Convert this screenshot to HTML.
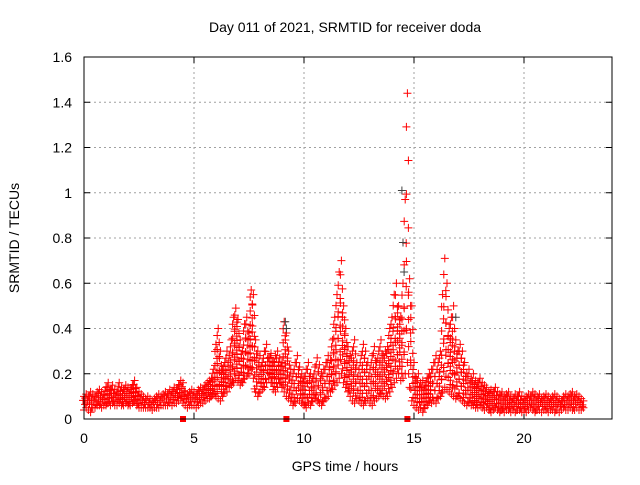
<!DOCTYPE html>
<html><head><meta charset="utf-8"><style>
body{margin:0;background:#fff}
svg text{font-family:"Liberation Sans",sans-serif;font-size:14px;fill:#000}
</style></head><body>
<svg id="c" width="640" height="480"></svg>
<script>
const yTicks=[0,0.2,0.4,0.6,0.8,1,1.2,1.4,1.6];
const yTickLabels=["0","0.2","0.4","0.6","0.8","1","1.2","1.4","1.6"];
const xTicks=[0,5,10,15,20];
const xTickLabels=["0","5","10","15","20"];
const hiVals=[0.10,0.11,0.10,0.12,0.11,0.10,0.12,0.13,0.12,0.11,
0.14,0.16,0.13,0.15,0.13,0.12,0.16,0.14,0.13,0.15,
0.14,0.13,0.15,0.17,0.14,0.12,0.11,0.10,0.09,0.10,
0.09,0.08,0.09,0.10,0.11,0.10,0.11,0.12,0.11,0.13,
0.12,0.14,0.13,0.15,0.17,0.16,0.12,0.11,0.12,0.13,
0.12,0.11,0.13,0.14,0.13,0.15,0.16,0.17,0.18,0.22,
0.33,0.40,0.30,0.22,0.25,0.30,0.28,0.35,0.45,0.49,
0.44,0.35,0.30,0.42,0.45,0.38,0.57,0.55,0.35,0.30,
0.28,0.25,0.30,0.33,0.27,0.29,0.25,0.28,0.30,0.27,
0.25,0.43,0.38,0.30,0.22,0.20,0.25,0.28,0.23,0.20,
0.18,0.22,0.25,0.20,0.18,0.23,0.27,0.24,0.20,0.22,
0.25,0.28,0.26,0.35,0.45,0.55,0.65,0.70,0.50,0.40,
0.32,0.28,0.30,0.35,0.25,0.22,0.28,0.33,0.30,0.25,
0.22,0.28,0.32,0.25,0.30,0.35,0.28,0.30,0.32,0.40,
0.45,0.55,0.60,0.50,0.45,0.60,0.97,1.44,0.62,0.50,
0.25,0.18,0.20,0.16,0.17,0.15,0.18,0.20,0.22,0.25,
0.28,0.25,0.30,0.55,0.71,0.60,0.40,0.45,0.50,0.35,
0.30,0.33,0.30,0.25,0.20,0.22,0.18,0.20,0.17,0.16,
0.18,0.16,0.15,0.14,0.12,0.13,0.12,0.14,0.12,0.11,
0.12,0.10,0.11,0.12,0.10,0.09,0.11,0.10,0.12,0.10,
0.09,0.10,0.11,0.10,0.12,0.11,0.10,0.11,0.09,0.10,
0.11,0.10,0.09,0.10,0.11,0.10,0.09,0.08,0.10,0.11,
0.10,0.11,0.12,0.10,0.11,0.10,0.09,0.08];
const loVals=[0.04,0.05,0.04,0.03,0.05,0.05,0.06,0.06,0.05,0.06,
0.06,0.07,0.06,0.07,0.06,0.06,0.07,0.06,0.06,0.07,
0.06,0.06,0.07,0.08,0.06,0.05,0.05,0.05,0.05,0.05,
0.05,0.04,0.05,0.05,0.05,0.06,0.06,0.06,0.06,0.07,
0.06,0.07,0.07,0.08,0.09,0.07,0.06,0.05,0.06,0.06,
0.06,0.05,0.06,0.07,0.07,0.08,0.09,0.09,0.10,0.11,
0.10,0.09,0.08,0.10,0.12,0.12,0.14,0.15,0.16,0.18,
0.17,0.15,0.16,0.18,0.19,0.20,0.22,0.18,0.12,0.10,
0.12,0.13,0.14,0.16,0.18,0.16,0.13,0.12,0.14,0.16,
0.14,0.12,0.10,0.09,0.08,0.06,0.07,0.09,0.08,0.07,
0.06,0.05,0.07,0.06,0.08,0.09,0.08,0.07,0.06,0.08,
0.09,0.10,0.12,0.13,0.15,0.16,0.18,0.20,0.16,0.14,
0.12,0.10,0.08,0.07,0.09,0.08,0.07,0.06,0.08,0.09,
0.07,0.06,0.08,0.09,0.10,0.11,0.10,0.09,0.10,0.12,
0.14,0.16,0.18,0.20,0.17,0.18,0.20,0.25,0.14,0.08,
0.06,0.05,0.04,0.05,0.03,0.05,0.06,0.08,0.07,0.08,
0.07,0.09,0.10,0.12,0.14,0.13,0.12,0.11,0.10,0.09,
0.10,0.09,0.08,0.07,0.06,0.07,0.06,0.06,0.05,0.05,
0.06,0.05,0.04,0.05,0.04,0.03,0.04,0.05,0.04,0.03,
0.04,0.03,0.04,0.04,0.03,0.04,0.03,0.04,0.04,0.03,
0.04,0.03,0.04,0.05,0.04,0.03,0.04,0.04,0.03,0.04,
0.04,0.03,0.04,0.04,0.03,0.04,0.03,0.04,0.05,0.04,
0.04,0.05,0.04,0.04,0.05,0.04,0.04,0.05];
const tStep=0.1;
const grayTimes=[14.45,14.5,14.55,9.15,9.2,16.9];
const grayVals=[1.01,0.78,0.65,0.43,0.40,0.45];
const markerTimes=[4.5,9.2,14.7];

const L=84,R=612,T=57,B=419,XMAX=24,YMAX=1.6;
const X=v=>L+(R-L)*v/XMAX;
const Y=v=>B-(B-T)*v/YMAX;
const svg=document.getElementById('c');
const NS='http://www.w3.org/2000/svg';
function mk(tag,attrs,parent){const e=document.createElementNS(NS,tag);for(const k in attrs)e.setAttribute(k,attrs[k]);(parent||svg).appendChild(e);return e;}

yTicks.forEach((v,i)=>{
 if(v>0&&v<YMAX){const g=mk('line',{x1:L,x2:R,y1:Y(v),y2:Y(v),stroke:'#a0a0a0','stroke-dasharray':'2,3'});
 
 }
 mk('line',{x1:L,x2:L+6,y1:Y(v),y2:Y(v),stroke:'#000'});
 mk('line',{x1:R,x2:R-6,y1:Y(v),y2:Y(v),stroke:'#000'});
 const t=mk('text',{x:L-12,y:Y(v)+5,'text-anchor':'end'});t.textContent=yTickLabels[i];
 
 
});
xTicks.forEach((v,i)=>{
 if(v>0){const g=mk('line',{x1:X(v),x2:X(v),y1:T,y2:B,stroke:'#a0a0a0','stroke-dasharray':'2,3'});
 
 }
 mk('line',{x1:X(v),x2:X(v),y1:B,y2:B-6,stroke:'#000'});
 mk('line',{x1:X(v),x2:X(v),y1:T,y2:T+6,stroke:'#000'});
 const t=mk('text',{x:X(v),y:B+24,'text-anchor':'middle'});t.textContent=xTickLabels[i];
 
 
});

const dg=mk('g',{stroke:'#ff0000','stroke-width':1});


function cross(x,y,g,col){mk('path',{d:`M${x-4},${y}h8M${x},${y-4}v8`,stroke:col||'#ff0000'},g);}
hiVals.forEach((h,i)=>{
 const t=i*tStep,x=X(t),yh=Y(h),yl=Y(loVals[i]);
 const span=yl-yh;
 const step=span>80?span/8:(span>30?7:4);
 let k=0;
 for(let y=yh+step;y<yl-2;y+=step){cross(x+(k%2?1:-1),y,dg);k++;}
 cross(x,yl,dg);cross(x,yh,dg);
});
const gg=mk('g',{});


grayTimes.forEach((t,i)=>cross(X(t),Y(grayVals[i]),gg,'#404040'));
markerTimes.forEach(t=>{
 const m=mk('rect',{x:X(t)-3,y:B-3,width:6,height:6,fill:'#ff0000'});
 
 
});

const fr=mk('rect',{x:L,y:T,width:R-L,height:B-T,fill:'none',stroke:'#000'});


let t=mk('text',{x:345,y:32,'text-anchor':'middle'});t.textContent='Day 011 of 2021, SRMTID for receiver doda';


t=mk('text',{x:345,y:471,'text-anchor':'middle'});t.textContent='GPS time / hours';


t=mk('text',{x:19,y:238,'text-anchor':'middle',transform:'rotate(-90 19 238)'});t.textContent='SRMTID / TECUs';


</script>
</body></html>
